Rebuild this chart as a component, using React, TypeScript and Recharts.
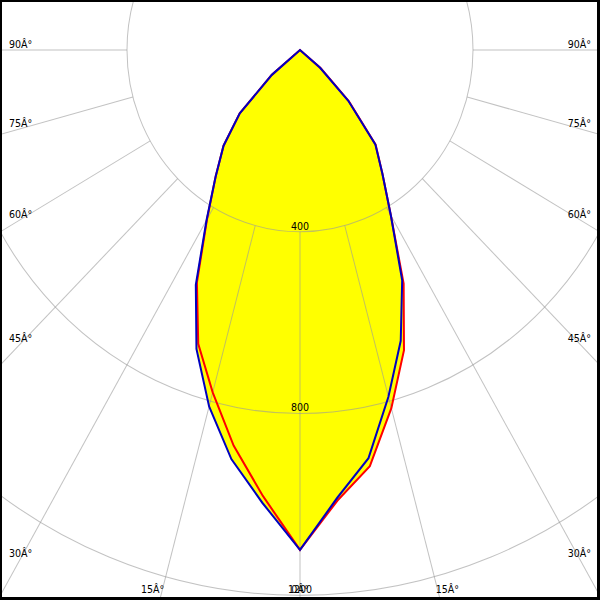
import React from 'react';
import { RadarChart, Radar, PolarGrid, PolarAngleAxis, PolarRadiusAxis } from 'recharts';

// gamma steps (deg from nadir) for one half-plane, 0..90
const gammaSteps = [0, 5, 10, 15, 20, 25, 30, 35, 40, 45, 50, 55, 60, 65, 70, 75, 80, 85, 90];

// C0-C180 plane (red), cd/klm
const redRight = [1100, 995, 930, 816, 703, 567, 420, 332, 272, 160, 62, 0, 0, 0, 0, 0, 0, 0, 0];
const redLeft = [1100, 985, 884, 780, 688, 564, 430, 340, 275, 197, 85, 0, 0, 0, 0, 0, 0, 0, 0];
// C90-C270 plane (blue)
const blueRight = [1100, 989, 912, 790, 681, 559, 420, 332, 271, 158, 60, 0, 0, 0, 0, 0, 0, 0, 0];
const blueLeft = [1100, 1000, 914, 812, 700, 570, 432, 340, 275, 197, 85, 0, 0, 0, 0, 0, 0, 0, 0];

const angleTicks = [0, 15, 30, 45, 60, 75, 90, 270, 285, 300, 315, 330, 345];
const radiusTicks = [400, 800, 1200, 1600];

// the original is slightly stretched vertically
const W = 600;
const H = 571;
const SCALE_Y = 600 / H;
const CX = 300;
const CY = 50 / SCALE_Y;
const FONT = '"DejaVu Sans", Verdana, sans-serif';

// full circle, gamma 0..355, right side first then the left side mirrored
const rows: { gamma: number; red: number; blue: number }[] = [];
for (let g = 0; g < 360; g += 5) {
  let red = 0;
  let blue = 0;
  if (g <= 90) {
    const i = gammaSteps.indexOf(g);
    red = redRight[i];
    blue = blueRight[i];
  } else if (g >= 270) {
    const i = gammaSteps.indexOf(360 - g);
    red = redLeft[i];
    blue = blueLeft[i];
  }
  rows.push({ gamma: g, red, blue });
}

// angle labels sit where the radial line leaves the frame
function AngleTick(props: any) {
  const { x, y, payload } = props;
  const dx = x - CX;
  const dy = y - CY;
  const len = Math.hypot(dx, dy) || 1;
  const sx = dx / len;
  const sy = dy / len;
  const bottom = 593 / SCALE_Y;
  const tSide = Math.abs(sx) < 1e-6 ? Infinity : 280 / Math.abs(sx);
  const tBottom = sy <= 1e-6 ? Infinity : (bottom - CY) / sy;
  const v = payload.value > 180 ? 360 - payload.value : payload.value;
  const label = `${v}Â°`;
  if (tSide < tBottom) {
    return (
      <text
        x={sx < 0 ? 9 : 591}
        y={CY + tSide * sy - 2}
        textAnchor={sx < 0 ? 'start' : 'end'}
        fontSize={9.5}
        fontFamily={FONT}
        fill="#000"
      >
        {label}
      </text>
    );
  }
  const tFar = (628 / SCALE_Y - CY) / sy;
  return (
    <text x={CX + tFar * sx} y={bottom} textAnchor="middle" fontSize={9.5} fontFamily={FONT} fill="#000">
      {label}
    </text>
  );
}

function RadiusTick(props: any) {
  const { x, y, payload } = props;
  return (
    <text x={x} y={y - 2} textAnchor="middle" fontSize={9.5} fontFamily={FONT} fill="#000">
      {payload.value}
    </text>
  );
}

export default function App() {
  return (
    <div style={{ position: 'absolute', left: 0, top: 0, width: 600, height: 600, background: '#fff', overflow: 'hidden' }}>
      <div style={{ width: W, height: H, transform: `scale(1, ${SCALE_Y})`, transformOrigin: '0 0' }}>
        <RadarChart
          width={W}
          height={H}
          data={rows}
          cx={CX}
          cy={CY}
          innerRadius={173}
          outerRadius={692}
          startAngle={-90}
          endAngle={270}
          margin={{ top: 0, right: 0, bottom: 0, left: 0 }}
        >
          <Radar
            dataKey="red"
            fill="#ffff00"
            fillOpacity={1}
            stroke="none"
            dot={false}
            activeDot={false}
            isAnimationActive={false}
            zIndex={100}
          />
          <Radar
            dataKey="blue"
            fill="#ffff00"
            fillOpacity={1}
            stroke="none"
            dot={false}
            activeDot={false}
            isAnimationActive={false}
            zIndex={100}
          />
          <PolarGrid gridType="circle" stroke="#999" strokeOpacity={0.6} zIndex={150} />
          <PolarAngleAxis
            dataKey="gamma"
            type="number"
            domain={[0, 360]}
            ticks={angleTicks}
            tick={AngleTick}
            axisLine={false}
            tickLine={false}
          />
          <PolarRadiusAxis
            angle={-90}
            domain={[400, 1600]}
            ticks={radiusTicks}
            allowDataOverflow
            axisLine={false}
            tickLine={false}
            orientation="middle"
            tick={RadiusTick}
          />
          <Radar
            dataKey="red"
            fill="none"
            stroke="#ff0000"
            strokeWidth={2}
            dot={false}
            activeDot={false}
            isAnimationActive={false}
            zIndex={200}
          />
          <Radar
            dataKey="blue"
            fill="none"
            stroke="#0000c0"
            strokeWidth={2}
            dot={false}
            activeDot={false}
            isAnimationActive={false}
            zIndex={210}
          />
        </RadarChart>
      </div>
      <div
        style={{
          position: 'absolute',
          inset: 0,
          borderStyle: 'solid',
          borderColor: '#000',
          borderWidth: '2px 3px 3px 2px',
          boxSizing: 'border-box',
          pointerEvents: 'none',
        }}
      />
    </div>
  );
}
